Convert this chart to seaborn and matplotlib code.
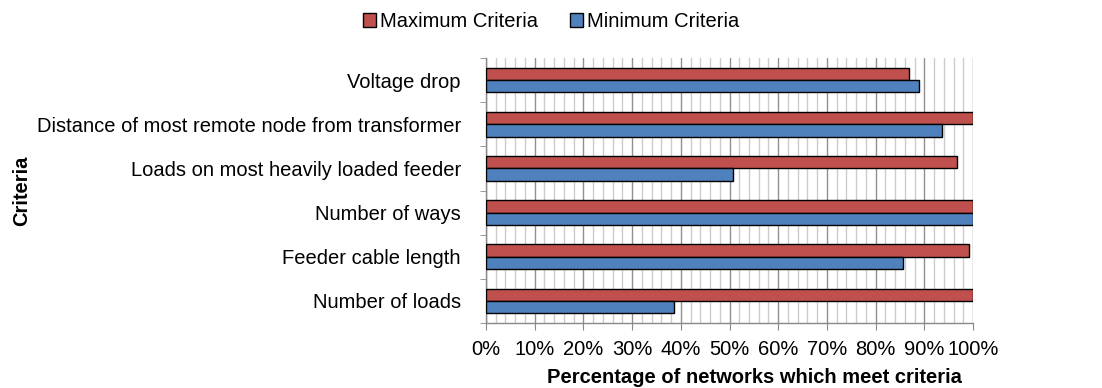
import matplotlib
matplotlib.use("Agg")
import matplotlib.pyplot as plt
import seaborn as sns
import pandas as pd
import numpy as np
from matplotlib.ticker import MultipleLocator, PercentFormatter

categories = [
    "Voltage drop",
    "Distance of most remote node from transformer",
    "Loads on most heavily loaded feeder",
    "Number of ways",
    "Feeder cable length",
    "Number of loads",
]
maximum_criteria = [86.9, 99.9, 96.7, 100.0, 99.2, 100.0]
minimum_criteria = [89.0, 93.6, 50.8, 100.0, 85.6, 38.7]
series_names = ["Maximum Criteria", "Minimum Criteria"]
palette = {"Maximum Criteria": "#C0504D", "Minimum Criteria": "#4F81BD"}

df = pd.DataFrame({
    "Criteria": categories * 2,
    "Value": maximum_criteria + minimum_criteria,
    "Series": [series_names[0]] * len(categories) + [series_names[1]] * len(categories),
})

sns.set_style("white")
plt.rcParams["font.family"] = ["Liberation Sans", "DejaVu Sans"]
plt.rcParams["text.color"] = "black"
plt.rcParams["axes.labelcolor"] = "black"
plt.rcParams["xtick.color"] = "black"
plt.rcParams["ytick.color"] = "black"

FS = 14.5

fig = plt.figure(figsize=(11.02, 3.88), dpi=100)
ax = fig.add_axes([0.441, 0.1675, 0.442, 0.683])

sns.barplot(data=df, y="Criteria", x="Value", hue="Series", order=categories,
            hue_order=series_names, palette=palette, orient="h", width=0.56,
            edgecolor="black", linewidth=1.0, saturation=1, ax=ax, legend=True, zorder=3)

ax.set_xlim(0, 100)
ax.xaxis.set_major_locator(MultipleLocator(10))
ax.xaxis.set_minor_locator(MultipleLocator(2))
ax.xaxis.set_major_formatter(PercentFormatter(decimals=0))
ax.grid(which="major", axis="x", color="#909090", linewidth=1.0, zorder=0)
ax.grid(which="minor", axis="x", color="#cccccc", linewidth=1.0, zorder=0)
ax.grid(axis="y", visible=False)
ax.set_axisbelow(True)

# category boundary ticks on the y axis
ax.set_yticks(np.arange(len(categories)))
ax.set_yticklabels(categories)
ax.set_yticks(np.arange(-0.5, len(categories)), minor=True)
ax.tick_params(axis="y", which="major", length=0, pad=18, labelsize=FS,
               labelcolor="black")
ax.tick_params(axis="y", which="minor", length=4, color="#888888", direction="out", left=True)
ax.tick_params(axis="x", which="major", length=5, color="#888888", direction="out",
               bottom=True, labelsize=FS, pad=7, labelcolor="black")
ax.tick_params(axis="x", which="minor", length=0)

for side in ["top", "right"]:
    ax.spines[side].set_visible(False)
for side in ["left", "bottom"]:
    ax.spines[side].set_color("#888888")
    ax.spines[side].set_linewidth(1.0)

ax.set_xlabel("Percentage of networks which meet criteria", fontsize=FS,
              fontweight="bold", color="black")
ax.xaxis.set_label_coords(0.552, -0.168)
ax.set_ylabel("Criteria", fontsize=FS, fontweight="bold", color="black")
ax.yaxis.set_label_coords(-0.934, 0.5)

handles, labels = ax.get_legend_handles_labels()
ax.get_legend().remove()
fig.legend(handles, labels, loc="center", bbox_to_anchor=(0.5, 0.944), ncol=2,
           frameon=False, fontsize=FS, handlelength=0.65, handleheight=0.65,
           handletextpad=0.2, columnspacing=1.6)

fig.savefig("out.png", dpi=100)
